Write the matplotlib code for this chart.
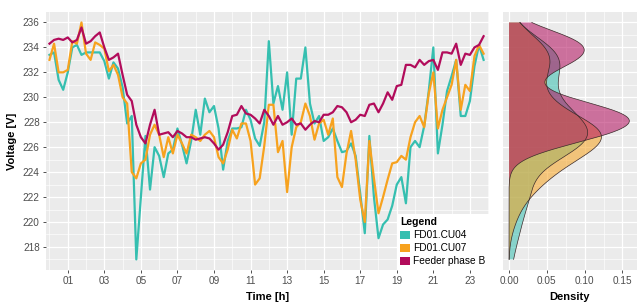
import numpy as np
import matplotlib
matplotlib.use("Agg")
import matplotlib.pyplot as plt
from matplotlib.patches import Patch
from matplotlib.ticker import FixedLocator

plt.rcParams['font.family'] = ['Liberation Sans', 'DejaVu Sans']

# ---------------- data (15-minute readings, hour of day) ----------------
series_names = ["FD01.CU04", "FD01.CU07", "Feeder phase B"]
colors = ["#35BFB0", "#F7A21E", "#B20C5B"]

cu04 = [233.4, 233.6, 231.4, 230.6, 232.0, 234.0, 234.2, 233.4, 233.6, 233.6, 233.6, 233.6,
        232.9, 231.5, 232.8, 232.3, 230.8, 227.9, 228.5, 217.0, 222.0, 226.9, 222.6, 226.0,
        225.3, 223.6, 225.5, 225.8, 227.5, 226.2, 224.7, 226.5, 229.0, 227.0, 229.9, 228.8,
        229.3, 227.5, 224.2, 226.5, 227.5, 227.5, 227.6, 229.0, 228.2, 226.7, 226.1, 228.0,
        234.5, 229.5, 230.9, 229.0, 232.0, 227.0, 231.5, 231.5, 234.0, 229.5, 227.9, 228.5,
        226.5, 226.8, 227.5, 226.5, 225.6, 225.7, 226.3, 225.3, 222.3, 219.1, 226.9, 222.0,
        218.7, 219.8, 220.2, 221.3, 223.0, 223.6, 221.5, 226.0, 226.5, 226.0, 227.7, 230.5,
        234.0, 225.5, 227.8, 230.5, 231.7, 233.0, 228.5, 228.5, 229.7, 232.5, 234.2, 233.0]

cu07 = [233.0, 234.3, 232.0, 232.0, 232.2, 234.5, 234.3, 236.0, 233.5, 233.0, 234.4, 234.2,
        233.9, 232.1, 232.6, 231.8, 230.0, 229.5, 224.0, 223.5, 224.7, 225.0, 227.0, 227.8,
        227.0, 225.2, 226.8, 225.5, 227.0, 226.3, 225.5, 227.0, 226.8, 226.5, 227.0, 227.3,
        226.8, 225.2, 224.7, 225.8, 227.4, 226.7, 227.9, 227.9, 226.5, 223.0, 223.5, 226.1,
        229.4, 229.4, 225.6, 226.5, 222.4, 226.0, 227.6, 228.0, 229.5, 228.5, 226.6, 227.9,
        228.2, 227.0, 228.3, 223.6, 222.8, 225.5, 227.3, 225.0, 221.8, 220.0, 226.5, 223.5,
        220.7, 222.0, 223.4, 224.7, 224.8, 225.3, 225.0, 226.8, 228.0, 228.5, 227.6, 230.3,
        232.0, 227.5, 229.0, 230.0, 231.0, 233.0, 229.0, 231.0, 230.5, 233.3, 234.2, 233.5]

feeder_b = [234.3, 234.6, 234.7, 234.6, 234.8, 234.4, 234.6, 235.6, 234.3, 234.5, 234.9, 235.2,
            234.0, 233.0, 233.2, 233.5, 231.8, 230.2, 229.7, 227.8, 226.8, 226.3, 227.8, 229.0,
            227.0, 227.1, 227.2, 226.8, 227.3, 227.1, 226.8, 226.8, 226.6, 226.7, 226.8, 226.7,
            226.3, 225.8, 226.2, 227.2, 228.5, 228.6, 229.3, 228.7, 228.6, 228.3, 227.9, 229.0,
            228.5, 227.8, 228.5, 227.8, 228.0, 228.3, 227.8, 227.9, 227.4, 227.8, 228.1, 228.0,
            228.6, 228.6, 228.8, 229.3, 229.2, 228.8, 228.0, 228.2, 228.6, 228.5, 229.4, 229.5,
            228.8, 229.5, 230.4, 229.8, 230.9, 231.0, 232.6, 232.6, 232.4, 233.0, 232.6, 232.9,
            233.0, 232.2, 233.6, 233.6, 233.5, 234.3, 232.6, 233.5, 233.4, 234.0, 234.2, 234.9]

hours = np.arange(len(cu04)) * 0.25

x_ticks = [1, 3, 5, 7, 9, 11, 13, 15, 17, 19, 21, 23]
x_tick_labels = ["01", "03", "05", "07", "09", "11", "13", "15", "17", "19", "21", "23"]
y_ticks = [218, 220, 222, 224, 226, 228, 230, 232, 234, 236]
d_ticks = [0.00, 0.05, 0.10, 0.15]
d_tick_labels = ["0.00", "0.05", "0.10", "0.15"]

all_series = [np.array(cu04), np.array(cu07), np.array(feeder_b)]

# ---------------- figure ----------------
fig = plt.figure(figsize=(6.4, 3.07), dpi=100)
ax = fig.add_axes([0.0719, 0.1205, 0.692, 0.8404])
axd = fig.add_axes([0.786, 0.1205, 0.209, 0.8404])

ylim = (216.15, 236.84)

def style(a):
    a.set_facecolor("#EBEBEB")
    for s in a.spines.values():
        s.set_visible(False)
    a.grid(True, which="major", color="white", lw=0.9)
    a.grid(True, which="minor", color="white", lw=0.45)
    a.set_axisbelow(True)
    a.tick_params(which="major", length=2.5, width=0.6, color="#333333",
                  labelsize=7.2, labelcolor="#4D4D4D", pad=2)
    a.tick_params(which="minor", length=0)

style(ax)
style(axd)

for vals, c, n in zip(all_series, colors, series_names):
    ax.plot(hours, vals, color=c, lw=1.6, label=n, solid_joinstyle="round")

ax.set_xlim(-0.19, 24.04)
ax.set_ylim(*ylim)
ax.xaxis.set_major_locator(FixedLocator(x_ticks))
ax.set_xticklabels(x_tick_labels)
ax.xaxis.set_minor_locator(FixedLocator(list(range(0, 25, 2))))
ax.yaxis.set_major_locator(FixedLocator(y_ticks))
ax.yaxis.set_minor_locator(FixedLocator(list(range(217, 237, 2))))
ax.set_xlabel("Time [h]", fontsize=8, fontweight="bold", labelpad=4)
ax.set_ylabel("Voltage [V]", fontsize=8, fontweight="bold", labelpad=4)

handles = [Patch(facecolor=c, edgecolor="none", label=n) for c, n in zip(colors, series_names)]
leg = ax.legend(handles=handles, title="Legend", loc="lower right", bbox_to_anchor=(1.0, 0.0),
                frameon=True, fancybox=False, framealpha=1.0, edgecolor="none",
                fontsize=7.3, title_fontsize=7.5, handlelength=0.95, handleheight=0.95,
                handletextpad=0.3, labelspacing=0.3, borderaxespad=0.0, borderpad=0.35)
leg.get_title().set_fontweight("bold")
leg._legend_box.align = "left"

# ---------------- density panel (gaussian KDE, R nrd0 bandwidth) ----------------
lo = min(v.min() for v in all_series)
hi = max(v.max() for v in all_series)
grid = np.linspace(lo, hi, 512)
for vals, c in zip(all_series, colors):
    n = len(vals)
    sd = vals.std(ddof=1)
    q75, q25 = np.percentile(vals, [75, 25])
    bw = 0.9 * min(sd, (q75 - q25) / 1.34) * n ** (-0.2)
    dens = np.exp(-0.5 * ((grid[:, None] - vals[None, :]) / bw) ** 2).sum(axis=1) / (n * bw * np.sqrt(2 * np.pi))
    axd.fill_betweenx(grid, 0, dens, facecolor=c, alpha=0.55, lw=0)
    axd.plot(dens, grid, color="#3a2a2a", lw=0.5)

axd.set_ylim(*ylim)
axd.set_xlim(-0.0079, 0.169)
axd.xaxis.set_major_locator(FixedLocator(d_ticks))
axd.set_xticklabels(d_tick_labels)
axd.xaxis.set_minor_locator(FixedLocator([0.025, 0.075, 0.125]))
axd.yaxis.set_major_locator(FixedLocator(y_ticks))
axd.yaxis.set_minor_locator(FixedLocator(list(range(217, 237, 2))))
axd.tick_params(axis="y", which="both", length=0, labelleft=False)
axd.set_xlabel("Density", fontsize=8, fontweight="bold", labelpad=4)

fig.savefig("out.png", dpi=100)
